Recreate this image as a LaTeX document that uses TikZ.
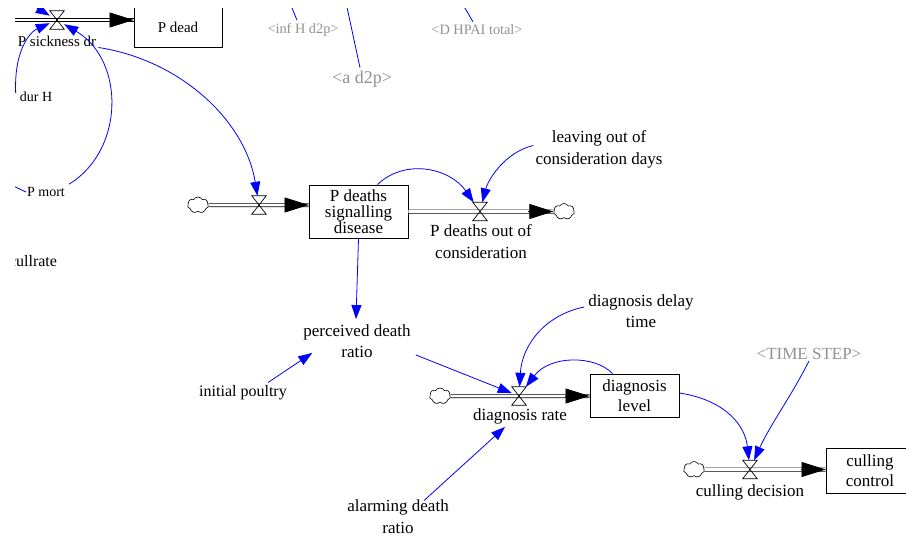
\documentclass[tikz,border=0pt]{standalone}
\usepackage{fontspec}
\setmainfont{Liberation Serif}
\usetikzlibrary{arrows.meta,shapes.symbols,calc}
\definecolor{linkblue}{RGB}{0,0,255}
\definecolor{shadowgray}{RGB}{145,145,145}
\tikzset{
  lab/.style={inner sep=1pt, align=center, font=\fontsize{17}{21.5}\selectfont},
  smalllab/.style={inner sep=1pt, align=center, font=\fontsize{14.5}{17}\selectfont},
  shadowlab/.style={inner sep=1pt, align=center, text=shadowgray},
  stock/.style={draw, line width=0.8pt, fill=white, inner sep=0pt, align=center, font=\fontsize{17}{20}\selectfont},
  pipe/.style={draw=black, double=white, line width=0.7pt, double distance=2.6pt},
  flowtip/.style={black, line width=0.7pt, -{Triangle[length=24pt,width=15pt]}},
  valvebox/.style={inner sep=0pt, minimum width=14pt, minimum height=18pt},
  valveline/.style={draw, line width=0.7pt},
  cloudy/.style={cloud, cloud puffs=7, cloud puff arc=120, aspect=1.3, draw, line width=0.6pt, fill=white, minimum width=21pt, minimum height=16pt, inner sep=0pt},
  link/.style={linkblue, line width=0.8pt, -{Triangle[length=14pt,width=10pt]}},
  linkplain/.style={linkblue, line width=0.8pt},
}
\newcommand\drawvalve[2]{%
  \node[valvebox] (#1) at (#2) {};
  \draw[valveline] (#1.north west) -- (#1.north east) -- (#1.south west) -- (#1.south east) -- cycle;}
\begin{document}
\begin{tikzpicture}[x=1pt,y=-1pt]
\path[use as bounding box] (0,0) rectangle (906,538);
\clip (15,8) rectangle (906,538);

% ---------- row 1 (top left) ----------
\coordinate (p1start) at (5,20);
\node[stock, minimum width=88pt, minimum height=40pt, font=\fontsize{15}{17}\selectfont] (pdead) at (178,27) {P dead};
\draw[pipe] (p1start) -- (pdead.west |- p1start);
\draw[flowtip] ($(pdead.west |- p1start)+(-24,0)$) -- (pdead.west |- p1start);
\drawvalve{v1}{57,20}
\node[smalllab, font=\fontsize{15}{17}\selectfont] (psick) at (57,41) {P sickness dr};
\node[smalllab, font=\fontsize{14}{17}\selectfont] (durH) at (36,97) {dur H};
\node[smalllab, font=\fontsize{14}{17}\selectfont] (pmort) at (46,192) {P mort};
\node[lab, font=\fontsize{16}{19}\selectfont] (cull) at (33,261) {cullrate};

% shadow variables
\node[shadowlab, font=\fontsize{14.3}{17}\selectfont] (infH) at (303,30) {<inf H d2p>};
\node[shadowlab, font=\fontsize{14.3}{17}\selectfont] (dhpai) at (477,30) {<D HPAI total>};
\node[shadowlab, font=\fontsize{18}{21}\selectfont] (ad2p) at (362,79) {<a d2p>};
\node[shadowlab, font=\fontsize{17}{20}\selectfont] (tstep) at (809,354) {<TIME STEP>};

% ---------- row 2 ----------
\node[cloudy] (c2) at (198,205) {};
\node[stock, minimum width=99pt, minimum height=53pt, font=\fontsize{17}{16}\selectfont] (pd) at (358.5,211.5) {P deaths\\signalling\\disease};
\draw[pipe] (c2.east) -- (c2 -| pd.west);
\draw[flowtip] ($(c2 -| pd.west)+(-24,0)$) -- (c2 -| pd.west);
\drawvalve{v2}{259,205}

\node[cloudy] (c3) at (564,211.5) {};
\draw[pipe] (pd.east |- c3) -- (c3.west);
\draw[flowtip] ($(c3.west)+(-25,0)$) -- (c3.west);
\drawvalve{v3}{480,211.5}
\node[lab] (pdout) at (481,241.5) {P deaths out of\\consideration};
\node[lab] (leaving) at (599,149.5) {leaving out of\\consideration days};

\node[lab] (perc) at (357,341) {perceived death\\ratio};
\node[lab, font=\fontsize{16}{19}\selectfont] (initp) at (243,393) {initial poultry};

% ---------- row 3 ----------
\node[cloudy] (c4) at (440,396) {};
\node[stock, minimum width=89pt, minimum height=43pt] (dl) at (634.5,395.5) {diagnosis\\level};
\draw[pipe] (c4.east) -- (c4 -| dl.west);
\draw[flowtip] ($(c4 -| dl.west)+(-25,0)$) -- (c4 -| dl.west);
\drawvalve{v4}{519,396}
\node[lab] (drate) at (520,416) {diagnosis rate};
\node[lab] (delay) at (641,311) {diagnosis delay\\time};
\node[lab] (alarm) at (398,516.5) {alarming death\\ratio};

% ---------- row 4 ----------
\node[cloudy] (c5) at (694,469.5) {};
\node[stock, minimum width=88pt, minimum height=45pt] (cc) at (870,470.5) {culling\\control};
\draw[pipe] (c5.east) -- (c5 -| cc.west);
\draw[flowtip] ($(c5 -| cc.west)+(-25,0)$) -- (c5 -| cc.west);
\drawvalve{v5}{750,469.5}
\node[lab] (cdec) at (750,492) {culling decision};

% ---------- links ----------
\coordinate (e5) at (14,4);
\draw[link] (e5) .. controls (32,5) .. (v1);
\draw[link] ($(durH.north west)+(-3,2)$) .. controls (14,50) and (30,32) .. (v1);
\draw[link] ($(pmort.north east)+(3,-2)$) .. controls (125,150) and (125,60) .. (v1);
\draw[link] ($(psick.south east)+(1,0)$) .. controls (180,60) and (245,120) .. (v2);
\coordinate (e4) at (5,182);
\draw[linkplain] (pmort.west) -- (e4);

\coordinate (e1) at (288,-2);
\coordinate (e2) at (345,-2);
\coordinate (e3) at (459,-2);
\draw[linkplain] ([xshift=-6pt,yshift=2pt]infH.north) -- (e1);
\draw[linkplain] ([xshift=-2pt,yshift=2pt]ad2p.north) -- (e2);
\draw[linkplain] ([xshift=-4pt,yshift=2pt]dhpai.north) -- (e3);

\draw[link] ([xshift=19pt]pd.north) .. controls (405,158) and (450,168) .. (v3);
\draw[link] ($(leaving.west)+(-1,-4)$) .. controls (505,152) and (488,180) .. (v3);
\draw[link] (pd.south) -- ($(perc.north)+(-1,-4)$);
\draw[link] ($(initp.north east)+(-20,-2)$) -- ($(perc.south west)+(10,-6)$);
\draw[link] ($(perc.south east)+(4,-4)$) -- (v4);
\draw[link] ($(delay.west)+(-3,-4)$) .. controls (545,315) and (522,345) .. (v4);
\draw[link] ([xshift=-22pt]dl.north) .. controls (595,355) and (550,355) .. (v4);
\draw[link] ($(alarm.north)+(26,2)$) -- ($(drate.south)+(-15,2)$);
\draw[link] (tstep.south) .. controls (792,395) and (770,425) .. (v5);
\draw[link] (dl.east |- 0,393) .. controls (725,400) and (745,425) .. (v5);
\end{tikzpicture}
\end{document}
